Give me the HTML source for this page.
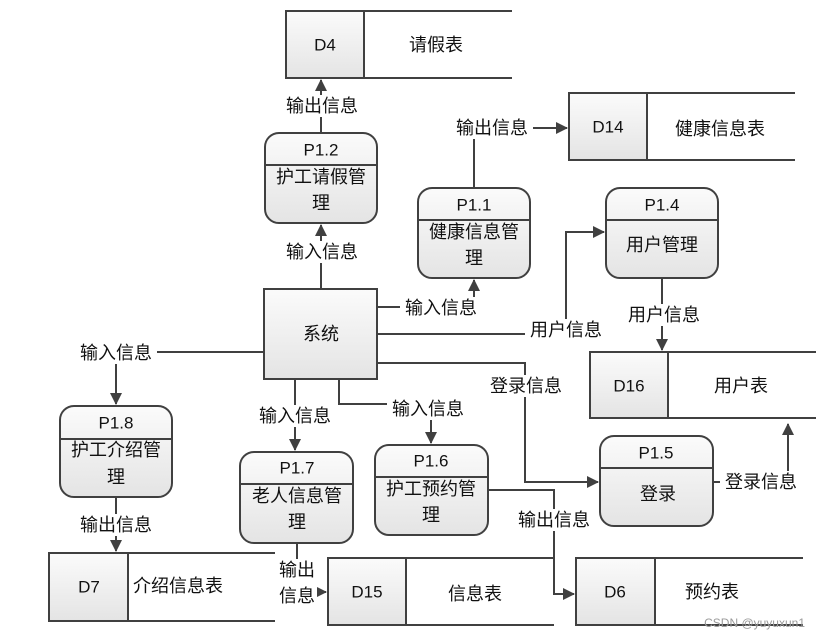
<!DOCTYPE html>
<html><head><meta charset="utf-8"><style>
html,body{margin:0;padding:0;background:#fff}
svg{display:block}
text{font-family:"Liberation Sans","Noto Sans CJK SC",sans-serif;fill:#111}
.l{font-size:18px;text-anchor:middle;dominant-baseline:central}
.id{font-size:17px;text-anchor:middle;dominant-baseline:central}
</style></head><body>
<svg width="818" height="640" viewBox="0 0 818 640" xmlns="http://www.w3.org/2000/svg">
<defs>
<linearGradient id="g" x1="0" y1="0" x2="0" y2="1"><stop offset="0" stop-color="#fbfbfb"/><stop offset="1" stop-color="#e4e4e4"/></linearGradient>
<marker id="a" markerWidth="12" markerHeight="12" refX="11" refY="6" orient="auto" markerUnits="userSpaceOnUse"><path d="M0,0 L12,6 L0,12 z" fill="#404040"/></marker>
</defs>
<g stroke="#404040" stroke-width="2" fill="none">
<rect x="286" y="11" width="78" height="67" fill="url(#g)"/><path d="M364,11H512M364,78H512"/>
<rect x="569" y="93" width="78" height="67" fill="url(#g)"/><path d="M647,93H795M647,160H795"/>
<rect x="590" y="352" width="78" height="66" fill="url(#g)"/><path d="M668,352H816M668,418H816"/>
<rect x="49" y="553" width="79" height="68" fill="url(#g)"/><path d="M128,553H275M128,621H275"/>
<rect x="328" y="558" width="78" height="67" fill="url(#g)"/><path d="M406,558H554M406,625H554"/>
<rect x="576" y="558" width="79" height="67" fill="url(#g)"/><path d="M655,558H803M655,625H803"/>
<rect x="264" y="289" width="113" height="90" fill="url(#g)"/>
<rect x="265" y="133" width="112" height="90" rx="14" fill="url(#g)"/><path d="M265,165H377"/>
<rect x="418" y="188" width="112" height="90" rx="14" fill="url(#g)"/><path d="M418,220H530"/>
<rect x="606" y="188" width="112" height="90" rx="14" fill="url(#g)"/><path d="M606,220H718"/>
<rect x="60" y="406" width="112" height="91" rx="14" fill="url(#g)"/><path d="M60,439H172"/>
<rect x="240" y="452" width="113" height="91" rx="14" fill="url(#g)"/><path d="M240,484H353"/>
<rect x="375" y="445" width="113" height="90" rx="14" fill="url(#g)"/><path d="M375,477H488"/>
<rect x="600" y="436" width="113" height="90" rx="14" fill="url(#g)"/><path d="M600,468H713"/>
<path d="M321,133V80" marker-end="url(#a)"/>
<path d="M321,289V225" marker-end="url(#a)"/>
<path d="M474,188V128H567" marker-end="url(#a)"/>
<path d="M377,307H474V280" marker-end="url(#a)"/>
<path d="M377,334H566V232H604" marker-end="url(#a)"/>
<path d="M662,278V350" marker-end="url(#a)"/>
<path d="M377,363H525V482H598" marker-end="url(#a)"/>
<path d="M713,482H788V424" marker-end="url(#a)"/>
<path d="M264,352H116V404" marker-end="url(#a)"/>
<path d="M116,497V551" marker-end="url(#a)"/>
<path d="M295,379V450" marker-end="url(#a)"/>
<path d="M339,379V404H431V443" marker-end="url(#a)"/>
<path d="M297,543V592H326" marker-end="url(#a)"/>
<path d="M488,490H554V594H574" marker-end="url(#a)"/>
</g>
<g fill="#fff">
<rect x="281" y="95" width="82" height="22"/>
<rect x="451" y="117" width="82" height="22"/>
<rect x="281" y="241" width="82" height="22"/>
<rect x="400" y="297" width="82" height="22"/>
<rect x="525" y="319" width="82" height="22"/>
<rect x="623" y="304" width="82" height="22"/>
<rect x="485" y="375" width="82" height="22"/>
<rect x="720" y="471" width="82" height="22"/>
<rect x="75" y="342" width="82" height="22"/>
<rect x="75" y="514" width="82" height="22"/>
<rect x="254" y="405" width="82" height="22"/>
<rect x="387" y="398" width="82" height="22"/>
<rect x="277" y="559" width="40" height="48"/>
<rect x="513" y="509" width="82" height="22"/>
</g>
<text class="id" x="325" y="45">D4</text><text class="l" x="436" y="45">请假表</text>
<text class="id" x="608" y="127">D14</text><text class="l" x="720" y="129">健康信息表</text>
<text class="id" x="629" y="386">D16</text><text class="l" x="741" y="386">用户表</text>
<text class="id" x="89" y="587">D7</text><text class="l" x="178" y="586">介绍信息表</text>
<text class="id" x="367" y="592">D15</text><text class="l" x="475" y="594">信息表</text>
<text class="id" x="615" y="592">D6</text><text class="l" x="712" y="592">预约表</text>
<text class="l" x="321" y="334">系统</text>
<text class="id" x="321" y="150">P1.2</text><text class="l" x="321" y="177">护工请假管</text><text class="l" x="321" y="203">理</text>
<text class="id" x="474" y="205">P1.1</text><text class="l" x="474" y="232">健康信息管</text><text class="l" x="474" y="258">理</text>
<text class="id" x="662" y="205">P1.4</text><text class="l" x="662" y="245">用户管理</text>
<text class="id" x="116" y="423">P1.8</text><text class="l" x="116" y="450">护工介绍管</text><text class="l" x="116" y="477">理</text>
<text class="id" x="297" y="468">P1.7</text><text class="l" x="297" y="496">老人信息管</text><text class="l" x="297" y="522">理</text>
<text class="id" x="431" y="461">P1.6</text><text class="l" x="431" y="489">护工预约管</text><text class="l" x="431" y="515">理</text>
<text class="id" x="656" y="453">P1.5</text><text class="l" x="658" y="494">登录</text>
<text class="l" x="322" y="106">输出信息</text>
<text class="l" x="492" y="128">输出信息</text>
<text class="l" x="322" y="252">输入信息</text>
<text class="l" x="441" y="308">输入信息</text>
<text class="l" x="566" y="330">用户信息</text>
<text class="l" x="664" y="315">用户信息</text>
<text class="l" x="526" y="386">登录信息</text>
<text class="l" x="761" y="482">登录信息</text>
<text class="l" x="116" y="353">输入信息</text>
<text class="l" x="116" y="525">输出信息</text>
<text class="l" x="295" y="416">输入信息</text>
<text class="l" x="428" y="409">输入信息</text>
<text class="l" x="297" y="570">输出</text><text class="l" x="297" y="596">信息</text>
<text class="l" x="554" y="520">输出信息</text>
<text x="805" y="627" style="font-size:12px;fill:#999;text-anchor:end">CSDN @yuyuxun1</text>
</svg>
</body></html>
